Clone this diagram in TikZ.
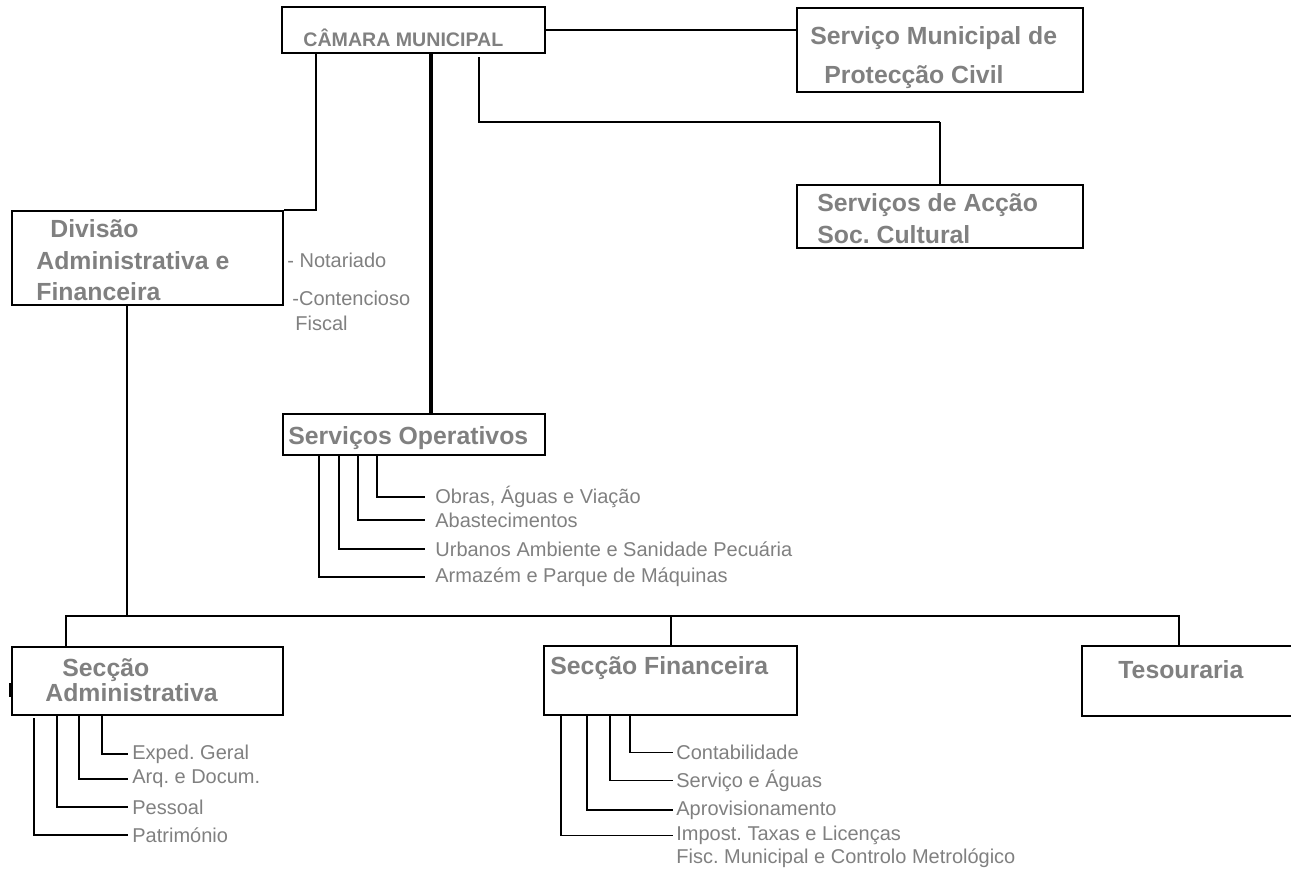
\documentclass[tikz,border=0pt]{standalone}
\usepackage{fontspec}
\setmainfont{Liberation Sans}
\usepackage{tikz}
\definecolor{labelgray}{RGB}{128,128,128}
\frenchspacing

\begin{document}
\begin{tikzpicture}[x=0.5pt, y=-0.5pt,
    box/.style={draw, line width=1pt, inner sep=0pt},
    head/.style={anchor=west, inner sep=0pt, text=labelgray, align=left,
        font=\bfseries\fontsize{12.4}{15}\selectfont},
    item/.style={anchor=west, inner sep=1.5pt, text=labelgray, align=left,
        font=\fontsize{10}{12.5}\selectfont},
    wire/.style={line width=0.9pt}]
    \useasboundingbox (0,0) rectangle (1291,873);

    % boxes
    \node(camara)[box, minimum width=131.5pt, minimum height=23pt] at (413.5,30) {};
    \node(smpc)[box, minimum width=143pt, minimum height=42pt] at (940,50) {};
    \node(sac)[box, minimum width=143pt, minimum height=31.5pt] at (940,216.5) {};
    \node(daf)[box, minimum width=135.5pt, minimum height=47pt] at (147.5,258) {};
    \node(so)[box, minimum width=131pt, minimum height=20.5pt] at (414,434.5) {};
    \node(sa)[box, minimum width=135.5pt, minimum height=34pt] at (147.5,681) {};
    \node(sf)[box, minimum width=126.5pt, minimum height=34.5pt] at (670.5,680.5) {};
    \node(tes)[box, minimum width=105.5pt, minimum height=35pt] at (1187.5,681) {};

    % box texts
    \node(camaraT)[head, font=\bfseries\fontsize{9.8}{12}\selectfont] at (303,38) {CÂMARA MUNICIPAL};
    \node(smpcT)[head, font=\bfseries\fontsize{12.4}{19.5}\selectfont] at (810,57.5)
        {Serviço Municipal de\\\hspace*{7pt}Protecção Civil};
    \node(sacT)[head, font=\bfseries\fontsize{12.4}{16}\selectfont] at (817,219)
        {Serviços de Acção\\Soc. Cultural};
    \node(dafT)[head, font=\bfseries\fontsize{12.4}{15.75}\selectfont] at (36,260.5)
        {\hspace*{7pt}Divisão\\Administrativa e\\Financeira};
    \node(soT)[head] at (288,438) {Serviços Operativos};
    \node(saT)[head, font=\bfseries\fontsize{12.4}{11.5}\selectfont] at (45,680)
        {\hspace*{8.5pt}Secção\\Administrativa};
    \node(sfT)[head] at (550,668) {Secção Financeira};
    \node(tesT)[head] at (1118,670) {Tesouraria};

    % notes beside the division
    \node(notariado)[item, inner sep=0pt] at (287,260) {- Notariado};
    \node(contencioso)[item, inner sep=0pt] at (292,310.5) {-Contencioso\\\hspace*{1.5pt}Fiscal};

    % items of the operative services
    \node(obras)[item, inner xsep=5pt] at (425,497) {Obras, Águas e Viação};
    \node(abast)[item, inner xsep=5pt] at (425,520) {Abastecimentos};
    \node(urbanos)[item, inner xsep=5pt] at (425,549) {Urbanos Ambiente e Sanidade Pecuária};
    \node(armazem)[item, inner xsep=5pt] at (425,577) {Armazém e Parque de Máquinas};

    % items of the administrative section
    \node(exped)[item, inner xsep=2pt] at (128,754) {Exped. Geral};
    \node(arq)[item, inner xsep=2pt] at (128,779) {Arq. e Docum.};
    \node(pessoal)[item, inner xsep=2pt] at (128,807) {Pessoal};
    \node(patrimonio)[item, inner xsep=2pt] at (128,835) {Património};

    % items of the financial section
    \node(contab)[item] at (673,752.5) {Contabilidade};
    \node(servaguas)[item] at (673,780.5) {Serviço e Águas};
    \node(aprov)[item] at (673,810) {Aprovisionamento};
    \node(impost)[item] at (673,835.5) {Impost. Taxas e Licenças};
    \node(fisc)[item] at (673,858) {Fisc. Municipal e Controlo Metrológico};

    \coordinate(acaoTap) at (479,57);
    \coordinate(acaoBend) at (940,122);
    \coordinate(busA) at (66,616);
    \coordinate(busB) at (1179,616);

    % top level links
    \draw[wire] (camara.east) -- (camara.east -| smpc.west);
    \draw[line width=0.65pt] (acaoTap) |- (acaoBend);
    \draw[line width=1.3pt] (acaoBend) -- (sac.north);
    \draw[line width=0.8pt] (316,0 |- camara.south) |- (daf.north east);
    \draw[line width=1.7pt] (431,0 |- camara.south) -- (431,0 |- so.north);

    % sections bus
    \draw[wire] (127,0 |- daf.south) -- (127,0 |- busA);
    \draw[wire] (sa.north -| busA) |- (busB) -- (tes.north -| busB);
    \draw[wire] (671,0 |- busA) -- (671,0 |- sf.north);
    \draw[line width=1.5pt] (sa.west) ++(-1,2) -- ++(0,14);

    % operative services branches
    \draw[wire] (377,0 |- so.south) |- (obras.west);
    \draw[wire] (358,0 |- so.south) |- (abast.west);
    \draw[wire] (339,0 |- so.south) |- (urbanos.west);
    \draw[wire] (319,0 |- so.south) |- (armazem.west);

    % administrative section branches
    \draw[wire] (102,0 |- sa.south) |- (exped.west);
    \draw[wire] (79,0 |- sa.south) |- (arq.west);
    \draw[wire] (57,0 |- sa.south) |- (pessoal.west);
    \draw[wire] (34,718) |- (patrimonio.west);

    % financial section branches
    \draw[wire] (630,0 |- sf.south) |- (contab.west);
    \draw[wire] (610,0 |- sf.south) |- (servaguas.west);
    \draw[wire] (587,0 |- sf.south) |- (aprov.west);
    \draw[wire] (561,0 |- sf.south) |- (impost.west);
\end{tikzpicture}
\end{document}
